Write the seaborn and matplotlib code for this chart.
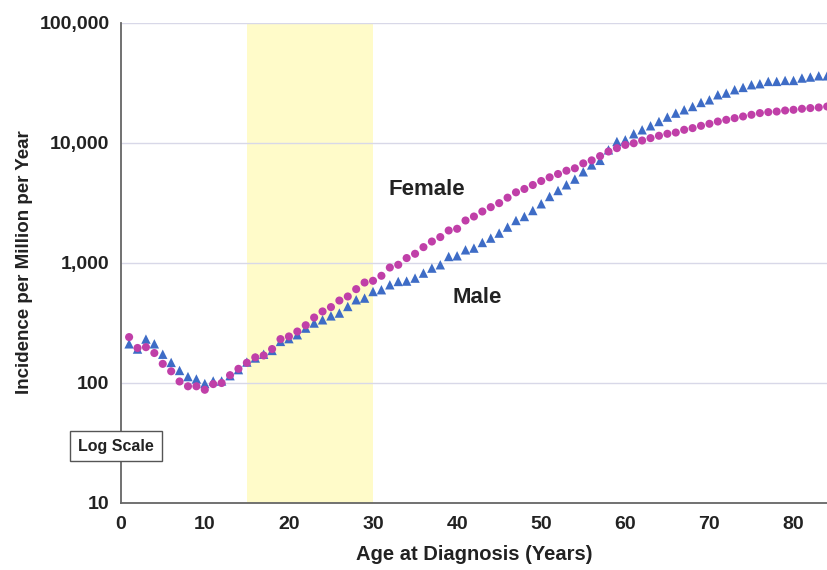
import matplotlib
matplotlib.use("Agg")
import matplotlib.pyplot as plt
import matplotlib.ticker as mticker
import seaborn as sns
import pandas as pd
import numpy as np

ages = list(range(1, 85))

female = [239, 194, 197, 176, 143, 124, 102, 93, 93, 87,
          97, 99, 115, 130, 146, 162, 168, 190, 230, 242,
          266, 300, 348, 391, 425, 482, 521, 600, 681, 704,
          775, 908, 957, 1089, 1182, 1343, 1496, 1629, 1849, 1910,
          2239, 2417, 2661, 2893, 3125, 3470, 3845, 4100, 4424, 4777,
          5127, 5464, 5821, 6097, 6700, 7100, 7700, 8414, 8974, 9550,
          9863, 10390, 10880, 11380, 11820, 12110, 12760, 13180, 13770, 14320,
          14960, 15450, 15960, 16480, 17020, 17580, 17920, 18120, 18480, 18730,
          19100, 19360, 19590, 19950]

male = [210, 190, 230, 210, 172, 147, 126, 112, 107, 98,
        103, 103, 114, 128, 148, 160, 172, 185, 220, 232,
        250, 284, 313, 333, 359, 379, 430, 489, 505, 573,
        593, 652, 695, 700, 741, 816, 898, 957, 1122, 1137,
        1275, 1318, 1468, 1597, 1758, 1972, 2239, 2417, 2711, 3085,
        3548, 3981, 4442, 4955, 5700, 6500, 7100, 8690, 10190, 10530,
        11820, 12760, 13780, 14960, 16280, 17570, 18730, 19950, 21550, 22670,
        24990, 25800, 27530, 28770, 30290, 30880, 32290, 32290, 32890, 32890,
        34440, 35100, 35940, 35940]

y_ticks = [10, 100, 1000, 10000, 100000]
y_tick_labels = ["10", "100", "1,000", "10,000", "100,000"]
x_ticks = [0, 10, 20, 30, 40, 50, 60, 70, 80]
band = (15, 30)

sns.set_style("white")
plt.rcParams['font.family'] = ['Liberation Sans', 'DejaVu Sans']
plt.rcParams['font.weight'] = 'bold'

fig = plt.figure(figsize=(8.28, 5.70), dpi=100)
ax = fig.add_axes([120.7 / 828, 1 - 502.5 / 570, (828 - 120.7) / 828, 480 / 570])

df_m = pd.DataFrame({"Age": ages, "Incidence": male})
df_f = pd.DataFrame({"Age": ages, "Incidence": female})

ax.axvspan(band[0], band[1], color="#FFFBC9", zorder=0, lw=0)

sns.scatterplot(data=df_m, x="Age", y="Incidence", marker="^", s=46,
                color="#3E6CC6", edgecolor="none", ax=ax, zorder=3, legend=False)
sns.scatterplot(data=df_f, x="Age", y="Incidence", marker="o", s=34,
                color="#C03FA8", edgecolor="none", ax=ax, zorder=4, legend=False)

ax.set_yscale("log")
ax.set_ylim(10, 100000)
ax.set_xlim(0, 84.1)
ax.set_yticks(y_ticks)
ax.set_yticklabels(y_tick_labels)
ax.set_xticks(x_ticks)
ax.set_xticklabels([str(t) for t in x_ticks])
ax.yaxis.set_minor_locator(mticker.LogLocator(base=10, subs=np.arange(2, 10)))
ax.yaxis.set_minor_formatter(mticker.NullFormatter())

for y in y_ticks[1:]:
    ax.axhline(y, color="#D8D8E8", lw=1.0, zorder=1)

for s in ["top", "right"]:
    ax.spines[s].set_visible(False)
for s in ["left", "bottom"]:
    ax.spines[s].set_color("#666666")
    ax.spines[s].set_linewidth(1.3)

ax.tick_params(axis="both", which="major", direction="out", length=4, width=1,
               color="#666666", labelsize=14, labelcolor="#222222")
ax.tick_params(axis="x", which="major", pad=6)
ax.tick_params(axis="y", which="major", pad=4)
ax.tick_params(axis="y", which="minor", direction="out", length=2.5, width=0.8, color="#666666")
for lab in ax.get_xticklabels() + ax.get_yticklabels():
    lab.set_fontweight("bold")

ax.set_xlabel("Age at Diagnosis (Years)", fontsize=14.5, fontweight="bold", color="#222222", labelpad=8)
ax.set_ylabel("Incidence per Million per Year", fontsize=13.5, fontweight="bold", color="#222222", labelpad=5)

ax.text(36.4, 4037, "Female", fontsize=16, fontweight="bold", color="#222222", ha="center", va="center")
ax.text(42.4, 508, "Male", fontsize=16, fontweight="bold", color="#222222", ha="center", va="center")

ax.text(-0.0066, 0.1177, "Log Scale", transform=ax.transAxes, fontsize=11.5, fontweight="bold",
        color="#222222", ha="center", va="center", zorder=6, clip_on=False,
        bbox=dict(boxstyle="square,pad=0.5", facecolor="white", edgecolor="#555555", lw=1))

fig.savefig("out.png", dpi=100)
